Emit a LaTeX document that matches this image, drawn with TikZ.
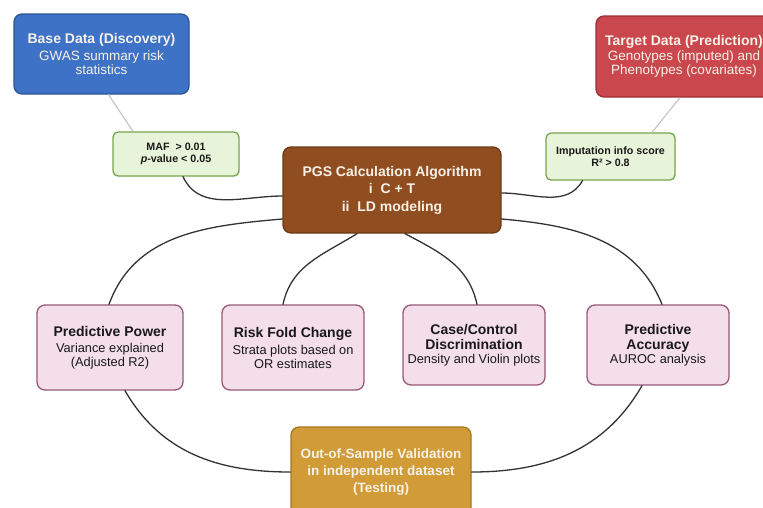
\documentclass[tikz,border=0pt]{standalone}
\usepackage{fontspec}
\setmainfont{Liberation Sans}
\usetikzlibrary{positioning}

\definecolor{basefill}{HTML}{3D72C7}
\definecolor{baseline}{HTML}{2C5596}
\definecolor{targetfill}{HTML}{C9474D}
\definecolor{targetline}{HTML}{9C2F35}
\definecolor{filterfill}{HTML}{E8F4D9}
\definecolor{filterline}{HTML}{75A548}
\definecolor{algofill}{HTML}{904D20}
\definecolor{algoline}{HTML}{6C3914}
\definecolor{metricfill}{HTML}{F3DEEA}
\definecolor{metricline}{HTML}{985878}
\definecolor{testfill}{HTML}{D19B37}
\definecolor{testline}{HTML}{A7761F}
\definecolor{lighttext}{HTML}{F7F1E8}

\newcommand{\boxtitle}[1]{{\bfseries\fontsize{14}{16}\selectfont #1}}

\begin{document}
\begin{tikzpicture}[x=1pt,y=-1pt,line join=round,line cap=round,
  card/.style={draw,line width=1.3pt,rounded corners=8pt,align=center,inner sep=0pt,
    font=\fontsize{12.8}{14}\selectfont},
  datacard/.style={card,text=lighttext,font=\fontsize{13.5}{14.2}\selectfont},
  filtercard/.style={card,rounded corners=5pt,fill=filterfill,draw=filterline,text=black!90,
    font=\bfseries\fontsize{10.7}{12}\selectfont},
  metriccard/.style={card,fill=metricfill,draw=metricline,text=black!90,minimum width=142pt},
  link/.style={line width=1.3pt,black!80},
  feed/.style={line width=1pt,gray!50}]
  \useasboundingbox (0,0) rectangle (763,507);
  \clip (0,0) rectangle (763,507);

  \node[datacard,fill=basefill,draw=baseline,minimum width=175pt,minimum height=80pt] (base) at (101.5,54)
    {\boxtitle{Base Data (Discovery)}\\[2pt] GWAS summary risk\\ statistics};
  \node[datacard,fill=targetfill,draw=targetline,minimum width=176pt,minimum height=81pt] (target) at (684,56.5)
    {\boxtitle{Target Data (Prediction)}\\[0pt] Genotypes (imputed) and\\ Phenotypes (covariates)};

  \node[filtercard,minimum width=126pt,minimum height=44pt] (maf) at (176,154)
    {MAF\ \ > 0.01\\ \textit{p}-value < 0.05};
  \node[filtercard,minimum width=129pt,minimum height=47pt] (imp) at (610.5,156.5)
    {Imputation info score\\ R² > 0.8};

  \node[datacard,fill=algofill,draw=algoline,minimum width=218pt,minimum height=86pt,
    font=\bfseries\fontsize{14}{17.5}\selectfont] (pgs) at (392,190)
    {PGS Calculation Algorithm\\ i\ \ C + T\\ ii\ \ LD modeling};

  \node[metriccard,minimum width=146pt,minimum height=85pt] (pp) at (110,347.5)
    {\boxtitle{Predictive Power}\\[2pt] Variance explained\\ (Adjusted R2)};
  \node[metriccard,minimum height=85pt] (rfc) at (293,347.5)
    {\boxtitle{Risk Fold Change}\\[3pt] Strata plots based on\\ OR estimates};
  \node[metriccard,minimum height=80pt] (ccd) at (474,345)
    {\boxtitle{Case/Control}\\[1pt] \boxtitle{Discrimination}\\ Density and Violin plots};
  \node[metriccard,minimum height=80pt] (pa) at (658,345)
    {\boxtitle{Predictive}\\[1pt] \boxtitle{Accuracy}\\ AUROC analysis};

  \node[datacard,fill=testfill,draw=testline,minimum width=180pt,minimum height=90pt,
    font=\bfseries\fontsize{13.5}{17}\selectfont] (oos) at (381,472)
    {Out-of-Sample Validation\\ in independent dataset\\ (Testing)};

  \draw[feed] ([xshift=7pt]base.south) -- ([xshift=-43pt]maf.north);
  \draw[feed] ([xshift=-4pt]target.south) -- ([xshift=41.5pt]imp.north);
  \draw[link] ([xshift=7pt]maf.south) to[out=-65,in=180] ([yshift=-6pt]pgs.west);
  \draw[link] ([yshift=-3pt]pgs.east) to[out=0,in=-120] ([xshift=-28pt]imp.south);

  \draw[link] ([yshift=-29pt]pgs.west) to[out=185,in=70] ([xshift=-1pt]pp.north);
  \draw[link] ([xshift=-35pt]pgs.south) to[out=212,in=78] ([xshift=-10pt]rfc.north);
  \draw[link] ([xshift=13pt]pgs.south) to[out=-28,in=102] ([xshift=3pt]ccd.north);
  \draw[link] ([yshift=-29pt]pgs.east) to[out=-5,in=112] ([xshift=4pt]pa.north);

  \draw[link] ([xshift=15pt]pp.south) to[out=-60,in=180] (oos.west);
  \draw[link] ([xshift=-16pt]pa.south) to[out=-120,in=0] (oos.east);
\end{tikzpicture}
\end{document}
